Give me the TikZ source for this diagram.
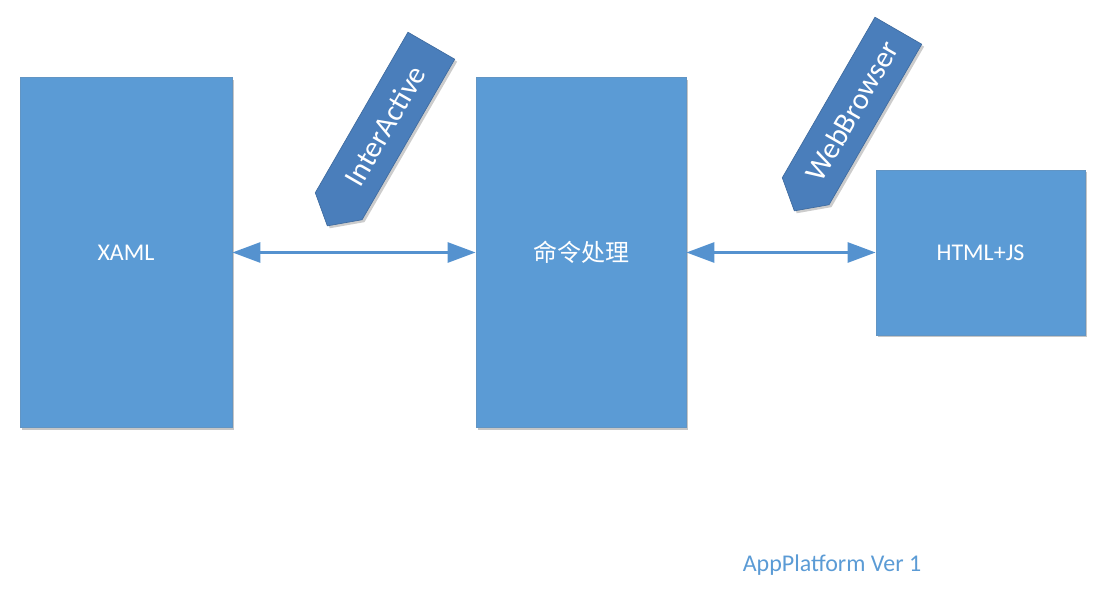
\documentclass[tikz,border=0pt]{standalone}
\usepackage{fontspec}
\setmainfont{Carlito}
\newfontfamily\cjk{Noto Sans CJK SC}
\usepackage{xcolor}
\usetikzlibrary{arrows.meta,shapes.symbols,shadows}
\definecolor{boxblue}{HTML}{5B9BD5}
\definecolor{tagblue}{HTML}{4A7EBB}
\definecolor{linkblue}{HTML}{5592CF}
\definecolor{notecol}{HTML}{5B9BD5}

\begin{document}
\begin{tikzpicture}
			[x=0.75pt,y=0.75pt,
			every node/.style={font=\fontsize{18}{20}\selectfont},
			panel/.style={rectangle,fill=boxblue,draw=boxblue!80!gray,line width=0.6pt,text=white,
				drop shadow={shadow xshift=1.8pt,shadow yshift=-1.8pt,opacity=0.45}},
			tag/.style={signal,signal to=west,signal pointer angle=100,fill=tagblue,draw=tagblue!85!black,
				line width=0.5pt,text=white,rotate=60,minimum width=156pt,minimum height=40.5pt,
				inner sep=0pt,font=\fontsize{22.5}{24}\selectfont,
				drop shadow={shadow xshift=1.8pt,shadow yshift=-1.8pt,opacity=0.4}},
			link/.style={linkblue,line width=2.2pt,{Triangle[length=21pt,width=15pt]}-{Triangle[length=21pt,width=15pt]}}]
			\useasboundingbox (0,0) rectangle (1105,606);
			\node[panel,minimum width=159pt,minimum height=263pt] (xaml) at (126,353.5) {XAML};
			\node[panel,minimum width=157.5pt,minimum height=263pt] (cmd) at (581,353.5) {\cjk 命令处理};
			\node[panel,minimum width=156.75pt,minimum height=123.75pt] (html) at (980.5,353.5) {HTML+JS};
			\node[tag] (interactive) at (385,480) {InterActive};
			\node[tag] (webbrowser) at (852,495) {WebBrowser};
			\draw[link] (xaml.east) -- (cmd.west);
			\draw[link] (cmd.east) -- (html.west);
			\node[text=notecol] (version) at (832,41) {AppPlatform Ver 1};
\end{tikzpicture}
\end{document}
